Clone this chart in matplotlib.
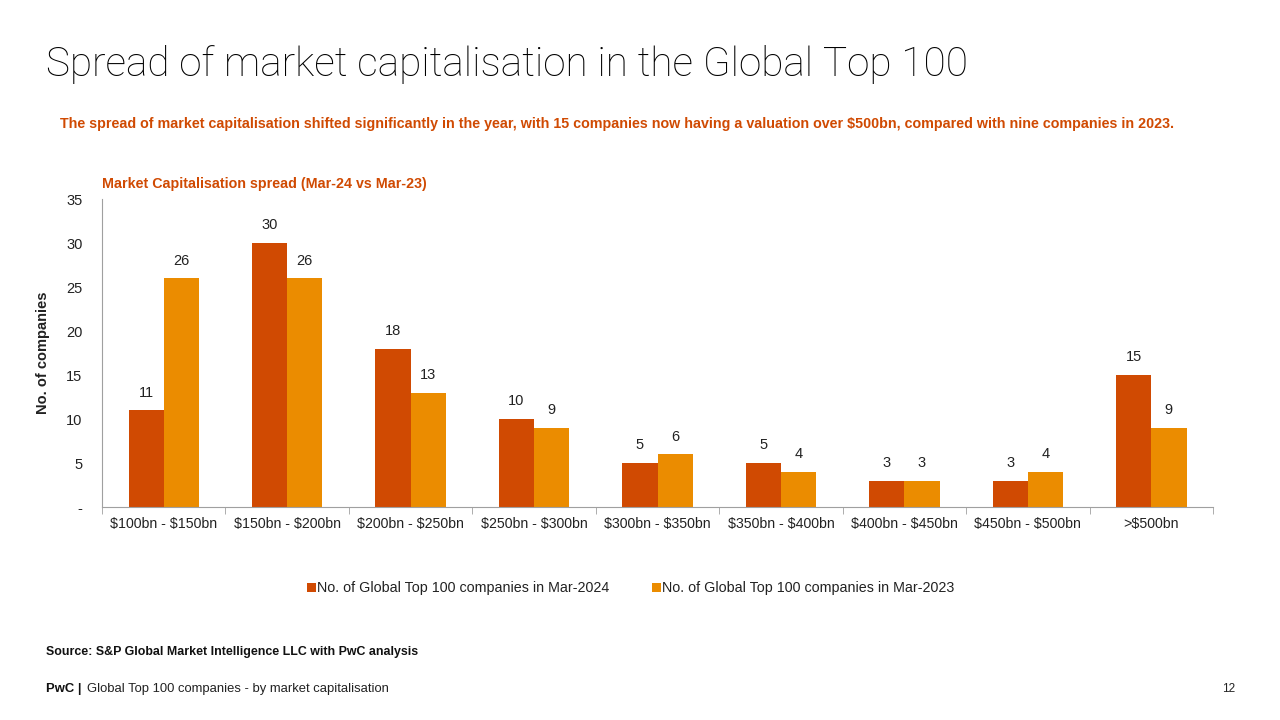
import matplotlib.pyplot as plt
import numpy as np

# data
categories = ["$100bn - $150bn", "$150bn - $200bn", "$200bn - $250bn", "$250bn - $300bn",
              "$300bn - $350bn", "$350bn - $400bn", "$400bn - $450bn", "$450bn - $500bn", ">$500bn"]
mar_2024 = [11, 30, 18, 10, 5, 5, 3, 3, 15]
mar_2023 = [26, 26, 13, 9, 6, 4, 3, 4, 9]
series_names = ["No. of Global Top 100 companies in Mar-2024",
                "No. of Global Top 100 companies in Mar-2023"]

RED = "#D04A02"
ORANGE = "#EB8C00"
TXT = "#222222"

plt.rcParams['font.family'] = ['Liberation Sans', 'DejaVu Sans']
plt.rcParams['text.parse_math'] = False  # keep the $ signs literal

fig = plt.figure(figsize=(12.8, 7.2), dpi=100)
ax = fig.add_axes([0.0797, 0.2958, 0.868, 0.4278])

x = np.arange(len(categories))
w = 0.285
b1 = ax.bar(x - w / 2, mar_2024, w, color=RED, label=series_names[0])
b2 = ax.bar(x + w / 2, mar_2023, w, color=ORANGE, label=series_names[1])

for bars, vals in ((b1, mar_2024), (b2, mar_2023)):
    for bar, v in zip(bars, vals):
        ax.text(bar.get_x() + bar.get_width() / 2, v + 1.2, str(v),
                ha="center", va="bottom", fontsize=10.5, color=TXT)

ax.set_xlim(-0.5, len(categories) - 0.5)
ax.set_ylim(0, 35)
ax.set_yticks(range(0, 36, 5))
ax.set_yticklabels(["-"] + [str(v) for v in range(5, 36, 5)], fontsize=10.5, color=TXT)
ax.tick_params(axis="y", length=0, pad=14)
ax.set_xticks(x)
ax.set_xticklabels(categories, fontsize=10.2, color=TXT)
ax.tick_params(axis="x", length=0, pad=7)
ax.set_xticks(np.arange(-0.5, len(categories), 1), minor=True)
ax.tick_params(axis="x", which="minor", length=5, color="#A0A0A0")
for s in ("top", "right"):
    ax.spines[s].set_visible(False)
for s in ("left", "bottom"):
    ax.spines[s].set_color("#A0A0A0")
ax.set_ylabel("No. of companies", fontsize=10.5, fontweight="bold", color=TXT, labelpad=12)

ax.text(0.0, 1.025, "Market Capitalisation spread (Mar-24 vs Mar-23)", transform=ax.transAxes,
        fontsize=10.3, fontweight="bold", color=RED, ha="left", va="bottom")

leg = fig.legend(handles=[b1, b2], loc="center", bbox_to_anchor=(0.493, 0.183), ncol=2,
                 frameon=False, fontsize=10.3, handlelength=0.6, handleheight=0.6,
                 handletextpad=0.1, columnspacing=3.0)
for t in leg.get_texts():
    t.set_color(TXT)

fig.text(0.036, 0.91, "Spread of market capitalisation in the Global Top 100",
         family=['Roboto', 'DejaVu Sans'], fontweight="light", fontsize=29.2, color="#000000",
         va="center", ha="left")
fig.text(0.0465, 0.828,
         "The spread of market capitalisation shifted significantly in the year, with 15 companies now having a valuation over $500bn, compared with nine companies in 2023.",
         fontsize=10.3, fontweight="bold", color=RED, va="center", ha="left")
fig.text(0.036, 0.094, "Source: S&P Global Market Intelligence LLC with PwC analysis",
         fontsize=8.9, fontweight="bold", color="#111111", va="center", ha="left")
fig.text(0.036, 0.043, "PwC |", fontsize=9.4, fontweight="bold", color="#111111", va="center", ha="left")
fig.text(0.068, 0.043, "Global Top 100 companies - by market capitalisation",
         fontsize=9.4, color="#222222", va="center", ha="left")
fig.text(0.96, 0.043, "12", fontsize=8.5, color="#222222", va="center", ha="center")

fig.savefig("out.png", dpi=100)
